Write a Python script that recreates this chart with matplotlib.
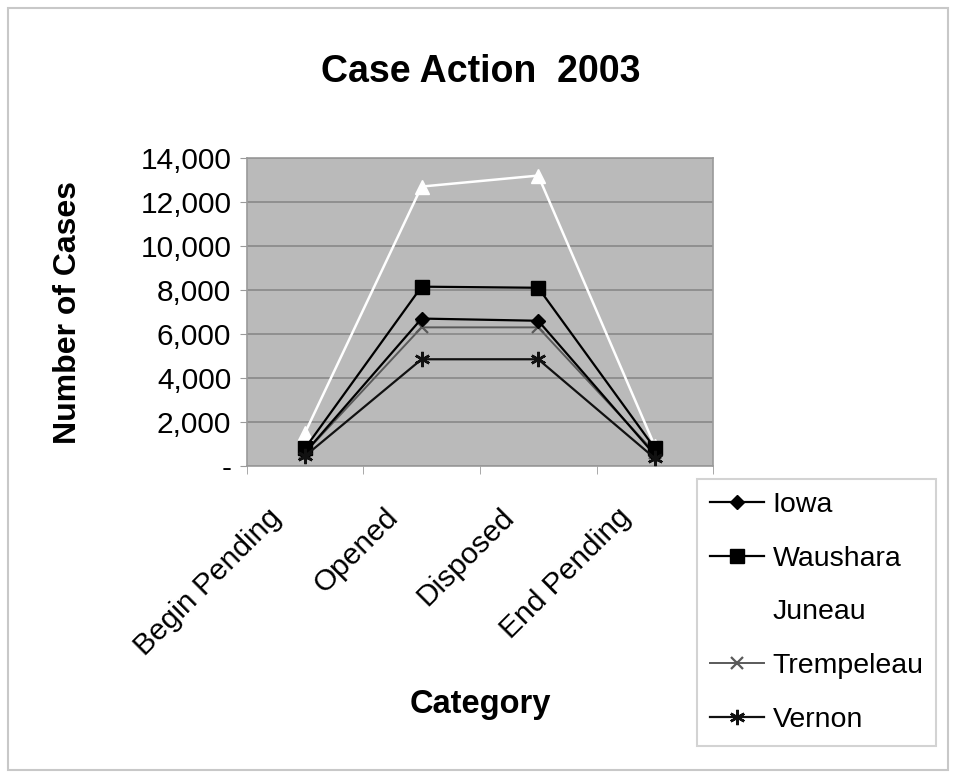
import matplotlib
matplotlib.use('Agg')
import matplotlib.pyplot as plt
from matplotlib.ticker import FuncFormatter, FixedLocator
from matplotlib.patches import Rectangle
import matplotlib.transforms as mtransforms

plt.rcParams['font.family'] = ['Liberation Sans', 'DejaVu Sans']

categories = ['Begin Pending', 'Opened', 'Disposed', 'End Pending']
iowa = [600, 6700, 6600, 500]
waushara = [800, 8150, 8100, 800]
juneau = [1500, 12700, 13200, 900]
trempeleau = [600, 6300, 6300, 600]
vernon = [450, 4850, 4850, 350]
y_ticks = [0, 2000, 4000, 6000, 8000, 10000, 12000, 14000]

fig = plt.figure(figsize=(9.56, 7.77), dpi=100)
fig.patches.append(Rectangle((0.008, 0.009), 0.984, 0.981, transform=fig.transFigure,
                             fill=False, edgecolor='#c8c8c8', linewidth=1.5))
ax = fig.add_axes([0.258, 0.4003, 0.488, 0.3964])
ax.set_facecolor('#bababa')

x = range(len(categories))
ax.plot(x, iowa, color='black', lw=1.6, marker='D', ms=7, label='Iowa', zorder=4)
ax.plot(x, waushara, color='black', lw=1.6, marker='s', ms=10, label='Waushara', zorder=4)
ax.plot(x, juneau, color='white', lw=1.8, marker='^', ms=10, label='Juneau', zorder=3)
ax.plot(x, trempeleau, color='#5a5a5a', lw=1.4, marker='x', ms=9, mew=1.6,
        label='Trempeleau', zorder=3)
ax.plot(x, vernon, color='#111111', lw=1.6, marker=(6, 2, 0), ms=11, mew=1.8,
        label='Vernon', zorder=5)

ax.set_xlim(-0.5, 3.5)
ax.set_ylim(0, 14000)
ax.set_yticks(y_ticks)
ax.yaxis.set_major_formatter(FuncFormatter(lambda v, p: '-' if v == 0 else f'{int(v):,}'))
ax.grid(axis='y', color='#888888', linewidth=1.2)
ax.set_axisbelow(True)

ax.set_xticks(list(x))
ax.xaxis.set_minor_locator(FixedLocator([-0.5, 0.5, 1.5, 2.5, 3.5]))
ax.tick_params(axis='x', which='major', length=0, pad=34)
ax.tick_params(axis='x', which='minor', length=6, color='#9a9a9a')
ax.tick_params(axis='y', length=5, color='#9a9a9a', labelsize=21.5, pad=6)
ax.set_xticklabels(categories, rotation=45, ha='right', va='center',
                   rotation_mode='anchor', fontsize=21.5)
shift = mtransforms.ScaledTranslation(-0.28, 0, fig.dpi_scale_trans)
for lab in ax.get_xticklabels():
    lab.set_transform(lab.get_transform() + shift)

for s in ax.spines.values():
    s.set_color('#9a9a9a')
    s.set_linewidth(1.2)

fig.text(0.503, 0.907, 'Case Action  2003', ha='center', va='center',
         fontsize=27, fontweight='bold')
fig.text(0.071, 0.598, 'Number of Cases', ha='center', va='center', rotation=90,
         fontsize=23, fontweight='bold')
fig.text(0.502, 0.093, 'Category', ha='center', va='center',
         fontsize=23.5, fontweight='bold')

leg = fig.legend(loc='upper left', bbox_to_anchor=(0.729, 0.383), fontsize=20.5,
                 frameon=True, fancybox=False, edgecolor='#c8c8c8',
                 handlelength=1.9, handletextpad=0.3, labelspacing=0.97,
                 borderpad=0.45, borderaxespad=0)
leg.get_frame().set_linewidth(1.5)

plt.savefig('out.png', dpi=100)
plt.close()
